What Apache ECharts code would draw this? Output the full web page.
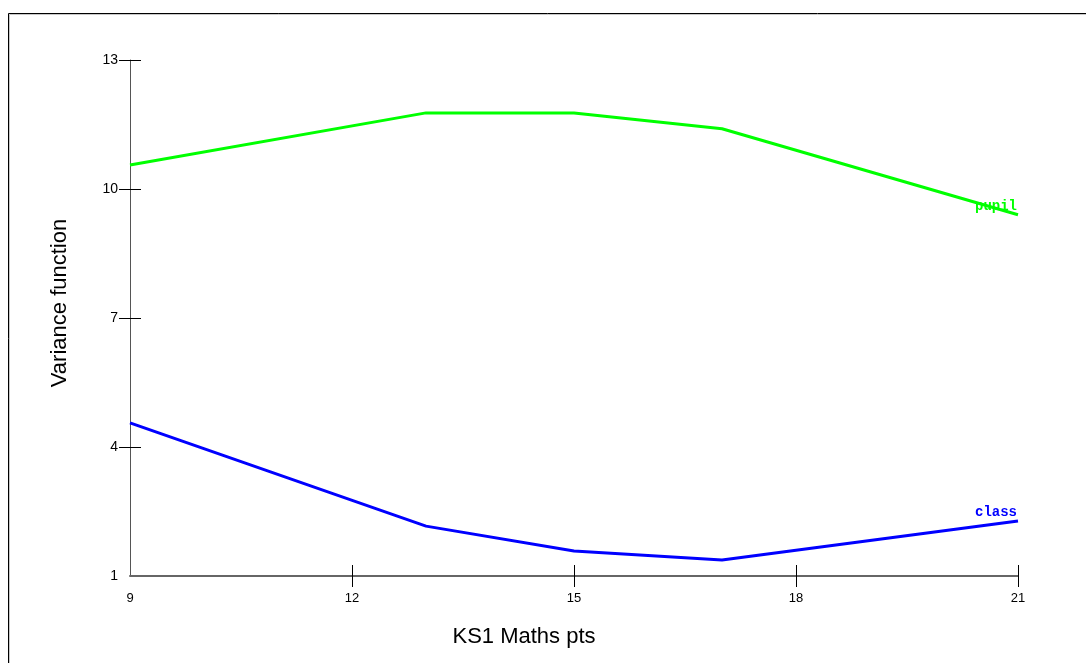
<!DOCTYPE html>
<html>
<head>
<meta charset="utf-8">
<script src="https://cdn.jsdelivr.net/npm/echarts@6/dist/echarts.min.js"></script>
<style>
html,body{margin:0;padding:0;background:#fff;}
#chart{width:1086px;height:663px;}
</style>
</head>
<body>
<div id="chart"></div>
<script>
const xValues = [9, 13, 15, 17, 21];
const pupilValues = [10.56, 11.77, 11.77, 11.40, 9.40];
const classValues = [4.56, 2.16, 1.58, 1.37, 2.28];
const xTicks = [12, 15, 18, 21];
const xTickLabels = [9, 12, 15, 18, 21];
const yTicks = [4, 7, 10, 13];
const yTickLabels = [1, 4, 7, 10, 13];
const seriesNames = ['pupil', 'class'];
const seriesColors = ['#00ff00', '#0000ff'];

const chart = echarts.init(document.getElementById('chart'), null, {renderer: 'canvas'});

function mkX(idx, inside, withLabels) {
  return {
    type: 'value', min: 9, max: 21, interval: 3, position: 'bottom', gridIndex: 0,
    axisLine: {show: idx === 0, onZero: false, lineStyle: {color: '#666', width: 2}},
    axisTick: {show: true, inside: inside, length: 11, customValues: xTicks, lineStyle: {color: '#000', width: 1}},
    axisLabel: {show: withLabels, customValues: xTickLabels, margin: 16, color: '#000', fontFamily: 'Liberation Sans', fontSize: 13},
    splitLine: {show: false},
    name: withLabels ? 'KS1 Maths pts' : '', nameLocation: 'middle', nameGap: 50,
    nameTextStyle: {fontFamily: 'Liberation Sans', fontSize: 22, color: '#000', padding: [0, 100, 0, 0]}
  };
}
function mkY(idx, inside, withLabels) {
  return {
    type: 'value', min: 1, max: 13, interval: 3, position: 'left', gridIndex: 0,
    axisLine: {show: idx === 0, onZero: false, lineStyle: {color: '#555', width: 1}},
    axisTick: {show: true, inside: inside, length: 11, customValues: yTicks, lineStyle: {color: '#000', width: 1}},
    axisLabel: {show: withLabels, customValues: yTickLabels, margin: 12, color: '#000', fontFamily: 'Liberation Sans', fontSize: 14},
    splitLine: {show: false},
    name: withLabels ? 'Variance function' : '', nameLocation: 'middle', nameGap: 59, nameRotate: 90,
    nameTextStyle: {fontFamily: 'Liberation Sans', fontSize: 22, color: '#000', padding: [0, 0, 0, 30]}
  };
}

const allValues = [pupilValues, classValues];
const series = seriesNames.map((name, s) => ({
  name: name,
  type: 'line',
  xAxisIndex: 0, yAxisIndex: 0,
  data: xValues.map((x, i) => [x, allValues[s][i]]),
  showSymbol: false,
  symbol: 'none',
  lineStyle: {color: seriesColors[s], width: 3},
  itemStyle: {color: seriesColors[s]},
  animation: false,
  endLabel: {
    show: true, formatter: '{a}', align: 'right', verticalAlign: 'middle',
    distance: 0, offset: [-1, -8],
    color: seriesColors[s], fontFamily: 'Liberation Mono', fontSize: 14, fontWeight: 'bold'
  }
}));

chart.setOption({
  animation: false,
  backgroundColor: '#fff',
  grid: {left: 130, top: 60, right: 68, bottom: 87, containLabel: false},
  xAxis: [mkX(0, false, true), mkX(1, true, false)],
  yAxis: [mkY(0, false, true), mkY(1, true, false)],
  graphic: [
    {type: 'rect', silent: true, shape: {x: 8.5, y: 13.5, width: 1200, height: 800}, style: {fill: null, stroke: '#000', lineWidth: 1}},
    {type: 'rect', silent: true, shape: {x: 9.5, y: 14.5, width: 1200, height: 800}, style: {fill: null, stroke: '#c8c8c8', lineWidth: 1}}
  ],
  series: series
});
</script>
</body>
</html>
